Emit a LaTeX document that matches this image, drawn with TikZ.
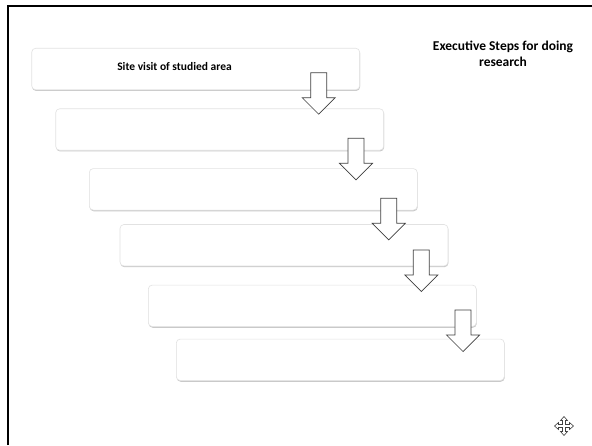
\documentclass[tikz,border=0pt]{standalone}
\usepackage{fontspec}
\setmainfont{Carlito}
\usetikzlibrary{shadows}
\definecolor{boxline}{HTML}{E2E2E2}
\definecolor{arrowline}{HTML}{404040}
\tikzset{
  stepbox/.style={draw=boxline, line width=0.6pt, fill=white, rounded corners=4pt,
    minimum width=328pt, minimum height=41.5pt, inner sep=0pt,
    drop shadow={shadow xshift=0.4pt, shadow yshift=-1.2pt, opacity=0.35, fill=black!60}},
  arrowbody/.style={draw=arrowline, line width=0.7pt, fill=white, line join=miter},
  downarrow/.pic={\draw[arrowbody] (-8,0) -- (8,0) -- (8,25) -- (16.5,25) -- (0,41.5) -- (-16.5,25) -- (-8,25) -- cycle;},
  label/.style={font=\bfseries, inner sep=0pt, align=center},
  frameline/.style={line width=2.2pt, black},
}
\begin{document}
\begin{tikzpicture}[x=1pt, y=-1pt]
\useasboundingbox[fill=white] (0,0) rectangle (592,445);
% frame
\coordinate (fa) at (7.8,445);
\coordinate (fb) at (7.8,6);
\coordinate (fc) at (592,6);
\draw[frameline] (fa) -- (fb) -- (fc);
% boxes
\node[stepbox] (b1) at (195.7,69) {};
\node[stepbox] (b2) at (219.7,129.5) {};
\node[stepbox] (b3) at (253.3,189.3) {};
\node[stepbox] (b4) at (284,245.2) {};
\node[stepbox] (b5) at (312.3,305.8) {};
\node[stepbox] (b6) at (340.3,359.8) {};
% arrows
\pic at (318.7,72.7) {downarrow};
\pic at (356,138.3) {downarrow};
\pic at (388.7,198.3) {downarrow};
\pic at (421.3,250) {downarrow};
\pic at (463,310) {downarrow};
% texts
\node[label, font=\bfseries\fontsize{11.5}{14}\selectfont] (t1) at (174.5,67) {Site visit of studied area};
\node[label, font=\bfseries\fontsize{13.5}{16}\selectfont] (title) at (503,54) {Executive Steps for doing\\research};
% move icon
\begin{scope}[shift={(564,426)}]
\draw[draw=arrowline, line width=0.6pt, fill=white, line join=miter]
 (0,-9.5) -- (3.5,-5.5) -- (1.5,-5.5) -- (1.5,-1.5) -- (5.5,-1.5) -- (5.5,-3.5) -- (9.5,0)
 -- (5.5,3.5) -- (5.5,1.5) -- (1.5,1.5) -- (1.5,5.5) -- (3.5,5.5) -- (0,9.5)
 -- (-3.5,5.5) -- (-1.5,5.5) -- (-1.5,1.5) -- (-5.5,1.5) -- (-5.5,3.5) -- (-9.5,0)
 -- (-5.5,-3.5) -- (-5.5,-1.5) -- (-1.5,-1.5) -- (-1.5,-5.5) -- (-3.5,-5.5) -- cycle;
\end{scope}
\end{tikzpicture}
\end{document}
